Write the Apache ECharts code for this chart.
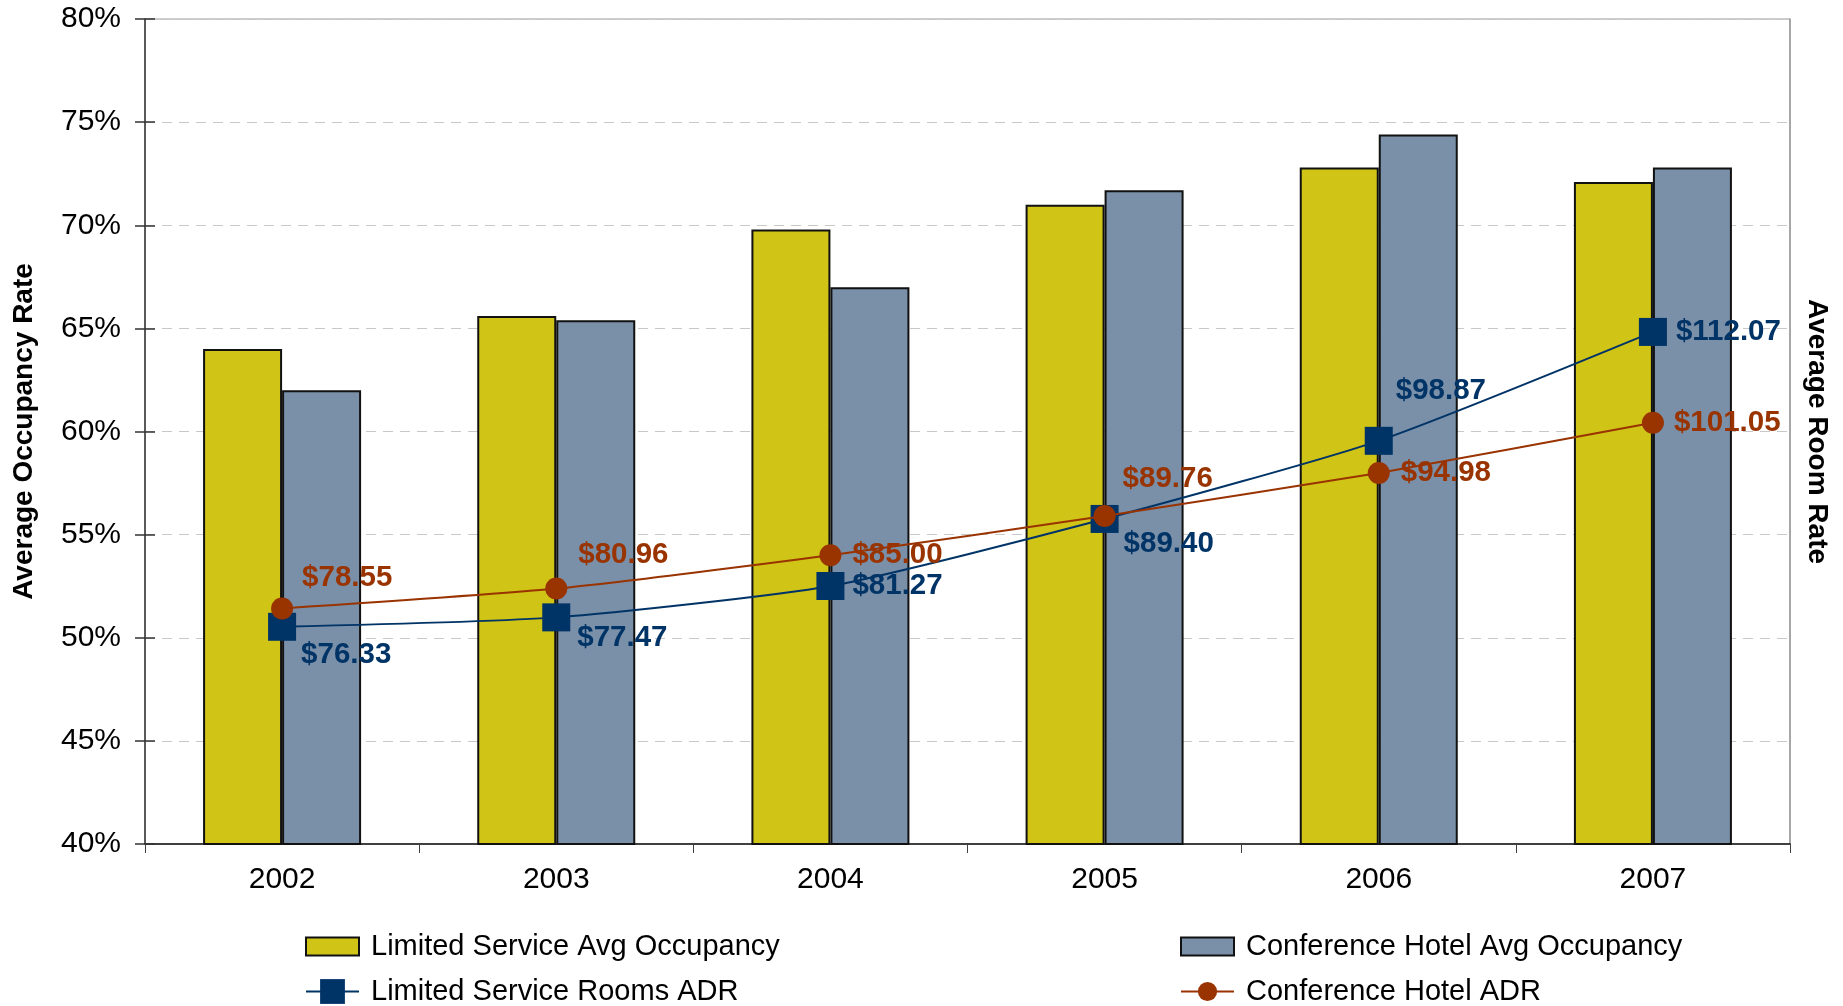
<!DOCTYPE html>
<html>
<head>
<meta charset="utf-8">
<title>Occupancy and Average Daily Rate, 2002-2007</title>
<script src="https://cdn.jsdelivr.net/npm/echarts@6/dist/echarts.min.js"></script>
<style>
  html, body { margin: 0; padding: 0; background: #ffffff; }
  #chart { width: 1843px; height: 1006px; }
</style>
</head>
<body>
<div id="chart"></div>
<script>
// Years on the category axis
const categories = ['2002', '2003', '2004', '2005', '2006', '2007'];

// Average occupancy (%)
const limitedOccupancy = [64.0, 65.6, 69.8, 71.0, 72.8, 72.1];
const conferenceOccupancy = [62.0, 65.4, 67.0, 71.7, 74.4, 72.8];

// Average daily room rate ($)
const limitedAdr = [76.33, 77.47, 81.27, 89.40, 98.87, 112.07];
const conferenceAdr = [78.55, 80.96, 85.00, 89.76, 94.98, 101.05];

// Left-axis tick range (%)
const occupancyTicks = { min: 40, max: 80, step: 5 };
// Hidden right-axis range ($)
const rateRange = { min: 50, max: 150 };

// Label placement for each rate point: [dx, dy] relative to the marker's right side
const limitedLabelShift = [[0, 28], [2, 20], [3, 0], [0, 25], [-2, -50], [4, 0]];
const conferenceLabelShift = [[0, -31], [2, -34], [2, 0], [-2, -37], [2, 0], [1, 0]];

const FONT = "'Liberation Sans', Arial, Helvetica, sans-serif";
const YELLOW = '#D0C416';
const SLATE = '#7A8FA8';
const NAVY = '#003366';
const RUST = '#993300';

const money = v => '$' + v.toFixed(2);

function rateData(values, shifts) {
  return values.map((v, i) => ({
    value: v,
    label: { offset: shifts[i] }
  }));
}

const legendText = { fontSize: 29, color: '#000', fontFamily: FONT, padding: [0, 0, 0, 7] };

const chart = echarts.init(document.getElementById('chart'), null, { renderer: 'canvas' });

const option = {
  backgroundColor: '#ffffff',
  animation: false,
  textStyle: { fontFamily: FONT },
  grid: {
    left: 145, right: 53, top: 19, bottom: 162,
    show: true, borderColor: '#9A9A9A', borderWidth: 1, backgroundColor: 'transparent'
  },
  legend: [
    {
      data: [{ name: 'Limited Service Avg Occupancy', icon: 'rect' }],
      left: 300, top: 927, itemWidth: 53, itemHeight: 18,
      textStyle: legendText
    },
    {
      data: ['Limited Service Rooms ADR'],
      left: 300, top: 972, itemWidth: 53, itemHeight: 31,
      textStyle: legendText
    },
    {
      data: [{ name: 'Conference Hotel Avg Occupancy', icon: 'rect' }],
      left: 1175, top: 927, itemWidth: 53, itemHeight: 18,
      textStyle: legendText
    },
    {
      data: ['Conference Hotel ADR'],
      left: 1175, top: 972, itemWidth: 53, itemHeight: 24,
      textStyle: legendText
    }
  ],
  xAxis: {
    type: 'category',
    data: categories,
    boundaryGap: true,
    axisLine: { lineStyle: { color: '#404040', width: 2 } },
    axisTick: { show: true, length: 9, alignWithLabel: false, lineStyle: { color: '#404040', width: 1 } },
    axisLabel: { fontSize: 30, color: '#000', margin: 21, fontFamily: FONT },
    splitLine: { show: false }
  },
  yAxis: [
    {
      type: 'value',
      min: occupancyTicks.min, max: occupancyTicks.max, interval: occupancyTicks.step,
      position: 'left',
      name: 'Average Occupancy Rate',
      nameLocation: 'middle',
      nameGap: 107,
      nameTextStyle: { fontSize: 28, fontWeight: 'bold', color: '#000', fontFamily: FONT },
      axisLine: { show: true, lineStyle: { color: '#333', width: 1.5 } },
      axisTick: { show: true, length: 10, lineStyle: { color: '#333', width: 1.5 } },
      axisLabel: { fontSize: 30, color: '#000', margin: 24, formatter: '{value}%', fontFamily: FONT },
      splitLine: { show: true, lineStyle: { color: '#C8C8C8', width: 1, type: [10, 7] } }
    },
    {
      type: 'value',
      min: rateRange.min, max: rateRange.max,
      position: 'right',
      name: 'Average Room Rate',
      nameLocation: 'middle',
      nameRotate: -90,
      nameGap: 13,
      nameTextStyle: { fontSize: 28, fontWeight: 'bold', color: '#000', fontFamily: FONT },
      axisLine: { show: true, lineStyle: { color: '#9A9A9A', width: 1.5 } },
      axisTick: { show: false },
      axisLabel: { show: false },
      splitLine: { show: false }
    },
    {
      // inner half of the crossing ticks on the occupancy axis
      type: 'value',
      min: occupancyTicks.min, max: occupancyTicks.max, interval: occupancyTicks.step,
      position: 'left',
      axisLine: { show: false },
      axisTick: { show: true, inside: true, length: 10, lineStyle: { color: '#333', width: 1.5 } },
      axisLabel: { show: false },
      splitLine: { show: false }
    }
  ],
  series: [
    {
      name: 'Limited Service Avg Occupancy',
      type: 'bar',
      yAxisIndex: 0,
      data: limitedOccupancy,
      barWidth: 79,
      barGap: '0%',
      itemStyle: { color: YELLOW, borderColor: '#111', borderWidth: 2 }
    },
    {
      name: 'Conference Hotel Avg Occupancy',
      type: 'bar',
      yAxisIndex: 0,
      data: conferenceOccupancy,
      barWidth: 79,
      barGap: '0%',
      itemStyle: { color: SLATE, borderColor: '#111', borderWidth: 2 }
    },
    {
      name: 'Limited Service Rooms ADR',
      type: 'line',
      yAxisIndex: 1,
      data: rateData(limitedAdr, limitedLabelShift),
      smooth: 0.2,
      symbol: 'rect',
      symbolSize: 28,
      lineStyle: { color: NAVY, width: 2 },
      itemStyle: { color: NAVY },
      label: {
        show: true, position: 'right', distance: 5,
        formatter: p => money(p.value),
        fontSize: 29.5, fontWeight: 'bold', color: NAVY, fontFamily: FONT
      },
      z: 3
    },
    {
      name: 'Conference Hotel ADR',
      type: 'line',
      yAxisIndex: 1,
      data: rateData(conferenceAdr, conferenceLabelShift),
      smooth: 0.2,
      symbol: 'circle',
      symbolSize: 22,
      lineStyle: { color: RUST, width: 2 },
      itemStyle: { color: RUST },
      label: {
        show: true, position: 'right', distance: 9,
        formatter: p => money(p.value),
        fontSize: 29.5, fontWeight: 'bold', color: RUST, fontFamily: FONT
      },
      z: 4
    }
  ]
};

chart.setOption(option);
</script>
</body>
</html>
